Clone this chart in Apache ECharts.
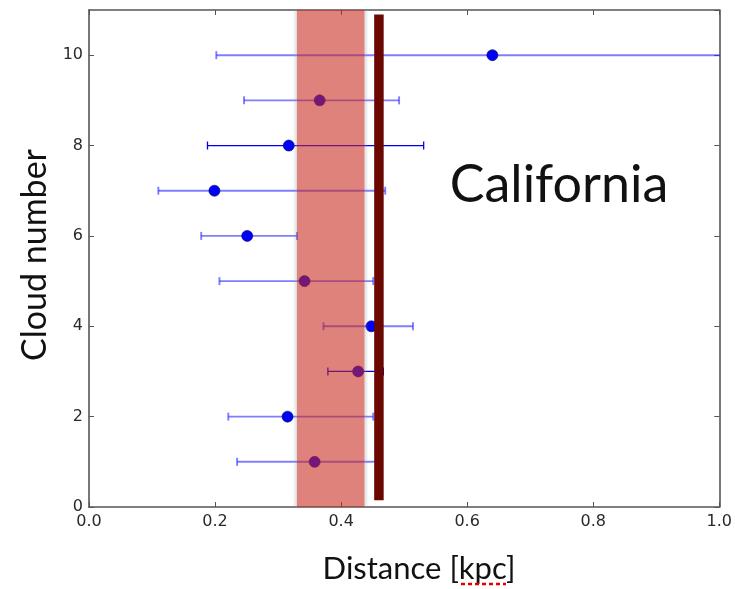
<!DOCTYPE html>
<html><head><meta charset="utf-8">
<script src="https://cdn.jsdelivr.net/npm/echarts@6/dist/echarts.min.js"></script>
<style>html,body{margin:0;padding:0;background:#fff}#c{width:735px;height:589px}</style>
</head><body><div id="c"></div>
<script>
const cloudNumber = [1, 2, 3, 4, 5, 6, 7, 8, 9, 10];
const distance    = [0.358, 0.315, 0.427, 0.448, 0.342, 0.251, 0.199, 0.317, 0.366, 0.640];
const errLow      = [0.235, 0.221, 0.379, 0.372, 0.207, 0.178, 0.110, 0.188, 0.246, 0.202];
const errHigh     = [0.457, 0.451, 0.467, 0.514, 0.451, 0.330, 0.470, 0.531, 0.492, 1.050];
const bandRange   = [0.330, 0.437];
const refLineX    = 0.460;
const refLineY    = [0.15, 10.9];
const xTicks      = ['0.0', '0.2', '0.4', '0.6', '0.8', '1.0'];
const yTicks      = ['0', '2', '4', '6', '8', '10'];
const barSolid    = [false, false, true, false, false, false, false, true, false, false];

const chart = echarts.init(document.getElementById('c'), null, {renderer: 'canvas'});

const errData = cloudNumber.map((c, i) => [errLow[i], errHigh[i], c, i]);
const ptData = cloudNumber.map((c, i) => [distance[i], c]);

const axisLineStyle = {show: true, onZero: false, lineStyle: {color: '#555', width: 1.6}};
const tickStyle = {show: true, inside: true, length: 5, lineStyle: {color: '#555'}};
const labelStyle = {color: '#2a2a2a', fontSize: 16, fontFamily: 'DejaVu Sans'};

chart.setOption({
  animation: false,
  backgroundColor: '#fff',
  grid: {left: 89, right: 12, top: 10, bottom: 82},
  xAxis: [
    {type: 'value', min: 0, max: 1, interval: 0.2, position: 'bottom',
     axisLine: axisLineStyle, axisTick: tickStyle, splitLine: {show: false},
     axisLabel: Object.assign({margin: 7, formatter: v => xTicks[Math.round(v / 0.2)]}, labelStyle)},
    {type: 'value', min: 0, max: 1, interval: 0.2, position: 'top',
     axisLine: axisLineStyle, axisTick: tickStyle, splitLine: {show: false}, axisLabel: {show: false}}
  ],
  yAxis: [
    {type: 'value', min: 0, max: 11, interval: 2, position: 'left',
     axisLine: axisLineStyle, axisTick: tickStyle, splitLine: {show: false},
     axisLabel: Object.assign({margin: 6, showMaxLabel: false, formatter: v => (yTicks[v / 2] !== undefined ? yTicks[v / 2] : '')}, labelStyle)},
    {type: 'value', min: 0, max: 11, interval: 2, position: 'right',
     axisLine: axisLineStyle, axisTick: tickStyle, splitLine: {show: false}, axisLabel: {show: false}}
  ],
  series: [
    {
      type: 'custom', z: 2, clip: true,
      data: errData,
      renderItem: function (params, api) {
        const lo = api.coord([api.value(0), api.value(2)]);
        const hi = api.coord([api.value(1), api.value(2)]);
        const solid = barSolid[api.value(3)];
        const style = {stroke: solid ? 'rgba(0,0,235,1)' : 'rgba(40,40,255,0.6)', lineWidth: solid ? 1.3 : 1.9};
        const cap = 4;
        return {type: 'group', children: [
          {type: 'line', shape: {x1: lo[0], y1: lo[1], x2: hi[0], y2: hi[1]}, style: style},
          {type: 'line', shape: {x1: lo[0], y1: lo[1] - cap, x2: lo[0], y2: lo[1] + cap}, style: style},
          {type: 'line', shape: {x1: hi[0], y1: hi[1] - cap, x2: hi[0], y2: hi[1] + cap}, style: style}
        ]};
      }
    },
    {
      type: 'scatter', z: 3, symbol: 'circle', symbolSize: 11,
      data: ptData,
      itemStyle: {color: '#0000ff', borderColor: '#00004a', borderWidth: 0.6, opacity: 1}
    },
    {
      type: 'custom', z: 4, clip: true,
      data: [[bandRange[0], bandRange[1]]],
      renderItem: function (params, api) {
        const a = api.coord([api.value(0), 11]);
        const b = api.coord([api.value(1), 0]);
        const h = b[1] - a[1];
        const g = 4;
        return {type: 'group', children: [
          {type: 'rect', shape: {x: a[0] - g, y: a[1], width: g, height: h},
           style: {fill: new echarts.graphic.LinearGradient(0, 0, 1, 0, [
             {offset: 0, color: 'rgba(150,150,150,0)'}, {offset: 1, color: 'rgba(150,150,150,0.35)'}])}},
          {type: 'rect', shape: {x: b[0], y: a[1], width: g, height: h},
           style: {fill: new echarts.graphic.LinearGradient(0, 0, 1, 0, [
             {offset: 0, color: 'rgba(150,150,150,0.35)'}, {offset: 1, color: 'rgba(150,150,150,0)'}])}},
          {type: 'rect', shape: {x: a[0], y: a[1], width: b[0] - a[0], height: h},
           style: {fill: 'rgba(200,40,30,0.58)'}}
        ]};
      }
    },
    {
      type: 'line', z: 5, symbol: 'none',
      data: [[refLineX, refLineY[0]], [refLineX, refLineY[1]]],
      lineStyle: {color: '#6a0800', width: 9.5}
    }
  ],
  graphic: [
    {type: 'text', x: 35, y: 255, rotation: Math.PI / 2,
     style: {text: 'Cloud number', fontFamily: 'Lato', fontSize: 34, fill: '#111', align: 'center', verticalAlign: 'middle'}},
    {type: 'text', x: 419, y: 569,
     style: {text: 'Distance [kpc]', fontFamily: 'Lato', fontSize: 31, fill: '#111', align: 'center', verticalAlign: 'middle'}},
    {type: 'line', shape: {x1: 461, y1: 584, x2: 506, y2: 584},
     style: {stroke: '#e00000', lineWidth: 2.5, lineDash: [4, 3]}},
    {type: 'text', x: 559, y: 185,
     style: {text: 'California', fontFamily: 'Lato', fontSize: 52, fill: '#111', align: 'center', verticalAlign: 'middle'}}
  ]
});
</script></body></html>
